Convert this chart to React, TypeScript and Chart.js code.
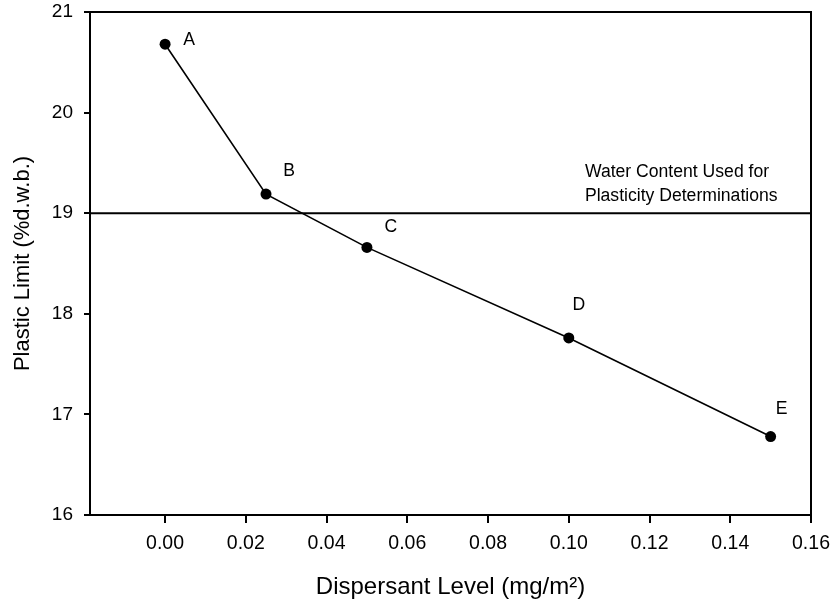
import React, { useEffect, useRef } from "react";
import { Chart, registerables } from "chart.js";

Chart.register(...registerables);

// ---- data ----
const dispersantLevels = [0, 0.025, 0.05, 0.1, 0.15];
const plasticLimits = [20.68, 19.19, 18.66, 17.76, 16.78];
const pointNames = ["A", "B", "C", "D", "E"];
const waterContentLevel = 19;
const waterContentNote = ["Water Content Used for", "Plasticity Determinations"];
const xTickValues = [0, 0.02, 0.04, 0.06, 0.08, 0.1, 0.12, 0.14, 0.16];
const yTickValues = [16, 17, 18, 19, 20, 21];
const xTitle = "Dispersant Level (mg/m\u00B2)";
const yTitle = "Plastic Limit (%d.w.b.)";

const FONT = "'Liberation Sans', Arial, sans-serif";

const decorPlugin = {
  id: "decor",
  afterDatasetsDraw(chart: any) {
    const { ctx, chartArea, scales } = chart;
    const xs = scales.x;
    const ys = scales.y;
    ctx.save();
    // reference line
    const yRef = ys.getPixelForValue(waterContentLevel);
    ctx.strokeStyle = "#000";
    ctx.lineWidth = 2;
    ctx.beginPath();
    ctx.moveTo(chartArea.left, yRef);
    ctx.lineTo(chartArea.right, yRef);
    ctx.stroke();
    // frame
    ctx.lineWidth = 2;
    ctx.strokeRect(chartArea.left, chartArea.top, chartArea.right - chartArea.left, chartArea.bottom - chartArea.top);
    // note text
    ctx.fillStyle = "#000";
    ctx.font = `17.6px ${FONT}`;
    ctx.textAlign = "left";
    ctx.textBaseline = "middle";
    const noteX = xs.getPixelForValue(0.104);
    ctx.fillText(waterContentNote[0], noteX, yRef - 41);
    ctx.fillText(waterContentNote[1], noteX, yRef - 17);
    // point labels
    const offs = [[24, -4], [23, -23], [24, -20], [10, -33], [11, -27]];
    ctx.textAlign = "center";
    pointNames.forEach((n, i) => {
      const px = xs.getPixelForValue(dispersantLevels[i]);
      const py = ys.getPixelForValue(plasticLimits[i]);
      ctx.fillText(n, px + offs[i][0], py + offs[i][1]);
    });
    ctx.restore();
  },
};

export default function App() {
  const ref = useRef<HTMLCanvasElement>(null);
  useEffect(() => {
    if (!ref.current) return;
    const chart = new Chart(ref.current, {
      type: "scatter",
      data: {
        datasets: [
          {
            data: dispersantLevels.map((x, i) => ({ x, y: plasticLimits[i] })),
            showLine: true,
            borderColor: "#000",
            backgroundColor: "#000",
            borderWidth: 1.6,
            pointRadius: 5.5,
            pointBorderWidth: 0,
            tension: 0,
          },
        ],
      },
      plugins: [decorPlugin],
      options: {
        animation: false,
        responsive: false,
        devicePixelRatio: 1,
        layout: { padding: { top: 12, right: 22, left: 0, bottom: 0 } },
        plugins: { legend: { display: false }, tooltip: { enabled: false } },
        scales: {
          x: {
            type: "linear",
            min: -0.0186,
            max: 0.16,
            afterBuildTicks: (s: any) => {
              s.ticks = xTickValues.map((v) => ({ value: v }));
            },
            afterFit: (s: any) => {
              s.height = 90;
              s.paddingLeft = 0;
              s.paddingRight = 0;
              s.paddingTop = 0;
              s.paddingBottom = 0;
            },
            border: { display: false },
            grid: { drawOnChartArea: false, drawTicks: true, tickLength: 8, color: "#000", lineWidth: 2 },
            ticks: {
              color: "#000",
              font: { family: FONT, size: 19.5 },
              padding: 9,
              maxRotation: 0,
              autoSkip: false,
              callback: (v: any) => Number(v).toFixed(2),
            },
            title: {
              display: true,
              text: xTitle,
              color: "#000",
              font: { family: FONT, size: 24 },
              padding: { top: 0, bottom: 3 },
            },
          },
          y: {
            type: "linear",
            min: 16,
            max: 21,
            afterBuildTicks: (s: any) => {
              s.ticks = yTickValues.map((v) => ({ value: v }));
            },
            afterFit: (s: any) => {
              s.width = 90;
              s.paddingLeft = 0;
              s.paddingRight = 0;
              s.paddingTop = 0;
              s.paddingBottom = 0;
            },
            border: { display: false },
            grid: { drawOnChartArea: false, drawTicks: true, tickLength: 6, color: "#000", lineWidth: 2 },
            ticks: {
              color: "#000",
              font: { family: FONT, size: 19 },
              padding: 11,
              autoSkip: false,
              callback: (v: any) => String(v),
            },
            title: {
              display: true,
              text: yTitle,
              color: "#000",
              font: { family: FONT, size: 22 },
              padding: { top: 10, bottom: 0 },
            },
          },
        },
      },
    });
    return () => chart.destroy();
  }, []);
  return (
    <div style={{ position: "absolute", left: 0, top: 0, width: 833, height: 605, background: "#fff" }}>
      <canvas ref={ref} width={833} height={605} style={{ width: 833, height: 605 }} />
    </div>
  );
}
